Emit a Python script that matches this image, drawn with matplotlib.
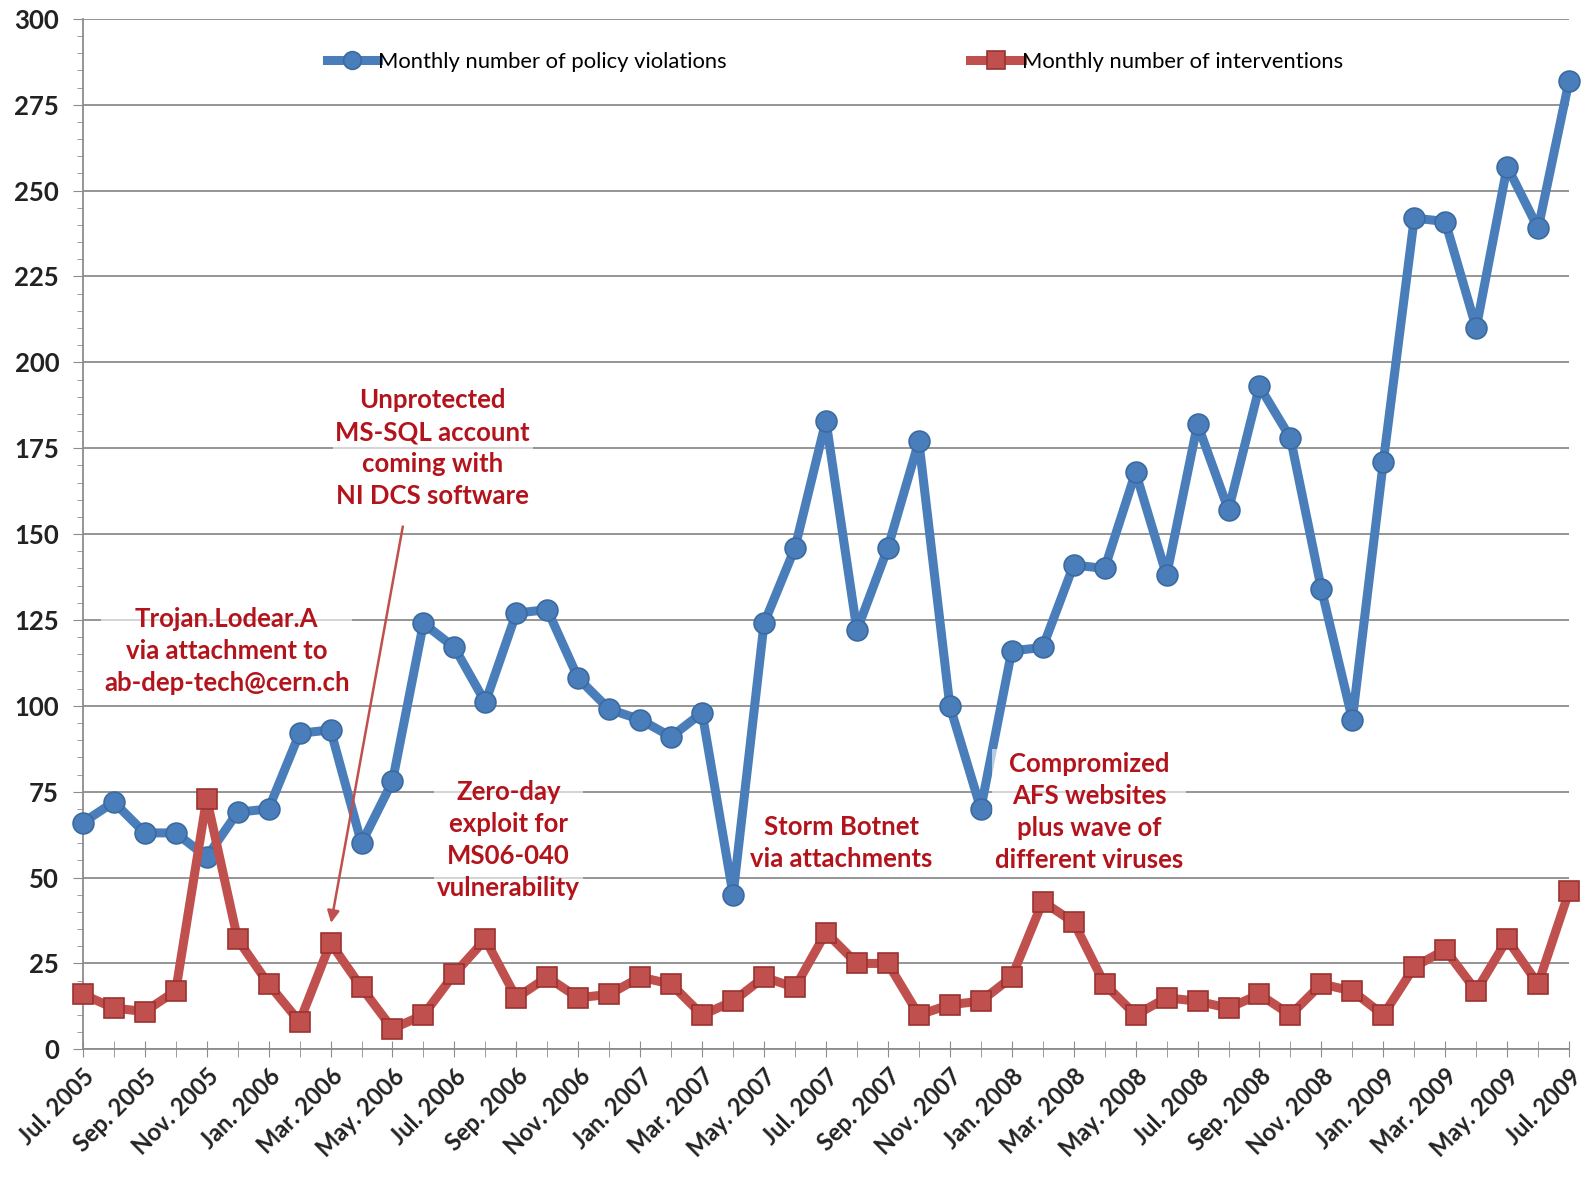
import matplotlib
matplotlib.use("Agg")
import matplotlib.pyplot as plt
from matplotlib.ticker import MultipleLocator

# monthly values, Jul. 2005 .. Jul. 2009
violations = [66, 72, 63, 63, 56, 69, 70, 92, 93, 60, 78, 124, 117, 101, 127, 128,
              108, 99, 96, 91, 98, 45, 124, 146, 183, 122, 146, 177, 100, 70, 116, 117,
              141, 140, 168, 138, 182, 157, 193, 178, 134, 96, 171, 242, 241, 210, 257,
              239, 282]
interventions = [16, 12, 11, 17, 73, 32, 19, 8, 31, 18, 6, 10, 22, 32, 15, 21,
                 15, 16, 21, 19, 10, 14, 21, 18, 34, 25, 25, 10, 13, 14, 21, 43,
                 37, 19, 10, 15, 14, 12, 16, 10, 19, 17, 10, 24, 29, 17, 32, 19, 46]

tick_labels = ["Jul. 2005", "Sep. 2005", "Nov. 2005", "Jan. 2006", "Mar. 2006",
               "May. 2006", "Jul. 2006", "Sep. 2006", "Nov. 2006", "Jan. 2007",
               "Mar. 2007", "May. 2007", "Jul. 2007", "Sep. 2007", "Nov. 2007",
               "Jan. 2008", "Mar. 2008", "May. 2008", "Jul. 2008", "Sep. 2008",
               "Nov. 2008", "Jan. 2009", "Mar. 2009", "May. 2009", "Jul. 2009"]

notes = [
    ("Trojan.Lodear.A\nvia attachment to\nab-dep-tech@cern.ch", 4.65, 116),
    ("Unprotected\nMS-SQL account\ncoming with\nNI DCS software", 11.3, 175),
    ("Zero-day\nexploit for\nMS06-040\nvulnerability", 13.75, 61),
    ("Storm Botnet\nvia attachments", 24.5, 60),
    ("Compromized\nAFS websites\nplus wave of\ndifferent viruses", 32.5, 69),
]

plt.rcParams['font.family'] = ['Lato', 'DejaVu Sans']

fig = plt.figure(figsize=(15.93, 11.79), dpi=100)
ax = fig.add_axes([0.052, 0.110, 0.933, 0.874])

x = list(range(len(violations)))
blue = '#4A7EBB'
red = '#C0504D'

l1, = ax.plot(x, violations, '-o', color=blue, lw=6.5, ms=15, mfc=blue, mec='#3A6A9F',
              mew=1.2, zorder=3, clip_on=False)
l2, = ax.plot(x, interventions, '-s', color=red, lw=6.5, ms=14.5, mfc=red, mec='#9B3330',
              mew=1.2, zorder=3, clip_on=False)

for txt, tx, ty in notes:
    ax.text(tx, ty, txt, ha='center', va='center', color='#B3141C', fontsize=18.5,
            fontweight='bold', linespacing=1.4, zorder=4,
            bbox=dict(facecolor='white', edgecolor='none', alpha=0.6, pad=2))

ax.annotate('', xy=(8.0, 36), xytext=(10.35, 153),
            arrowprops=dict(arrowstyle='-|>', color='#C0504D', lw=1.8,
                            mutation_scale=18), zorder=4)

ax.set_xlim(0, 48)
ax.set_ylim(0, 300)
ax.yaxis.set_major_locator(MultipleLocator(25))
ax.yaxis.set_minor_locator(MultipleLocator(5))
ax.set_xticks(range(0, 49, 2))
ax.set_xticks(range(0, 49), minor=True)
ax.set_xticklabels(tick_labels, rotation=45, ha='right', rotation_mode='anchor',
                   fontsize=17, fontweight='bold', color='#222222')
for lab in ax.get_yticklabels():
    lab.set_fontsize(18.5)
    lab.set_fontweight('bold')
    lab.set_color('#222222')

ax.grid(axis='y', which='major', color='#8C8C8C', lw=1.3, zorder=0)
ax.set_axisbelow(True)
for s in ['top', 'right']:
    ax.spines[s].set_visible(False)
for s in ['left', 'bottom']:
    ax.spines[s].set_color('#8C8C8C')
    ax.spines[s].set_linewidth(1.3)

ax.tick_params(axis='y', which='major', length=7, color='#8C8C8C', pad=10)
ax.tick_params(axis='y', which='minor', length=4, color='#8C8C8C')
ax.tick_params(axis='x', which='both', direction='inout', length=12, color='#8C8C8C',
               pad=5)

leg_kw = dict(loc='center left', frameon=False, fontsize=15.8, handlelength=2.35,
              handletextpad=0.0, borderpad=0, borderaxespad=0, markerscale=0.85)
leg1 = ax.legend([l1], ['Monthly number of policy violations'],
                 bbox_to_anchor=(0.164, 0.958), **leg_kw)
ax.add_artist(leg1)
ax.legend([l2], ['Monthly number of interventions'],
          bbox_to_anchor=(0.597, 0.958), **leg_kw)

fig.savefig('out.png', dpi=100)
